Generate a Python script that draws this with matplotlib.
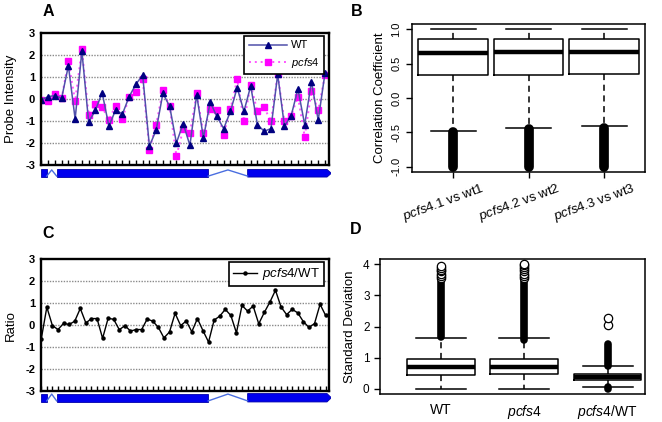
import numpy as np
import matplotlib
matplotlib.use("Agg")
import matplotlib.pyplot as plt
from matplotlib.patches import Polygon, Rectangle

plt.rcParams['font.family'] = ['Liberation Sans', 'DejaVu Sans']
plt.rcParams['mathtext.fontset'] = 'custom'
plt.rcParams['mathtext.rm'] = 'Liberation Sans'
plt.rcParams['mathtext.it'] = 'Liberation Sans:italic'

# ---- panel A: probe intensities ----
wt = [-0.05, 0.1, 0.15, 0.03, 1.5, -0.91, 2.16, -1.05, -0.52, 0.28,
      -1.24, -0.5, -0.69, 0.1, 0.66, 1.08, -2.14, -1.42, 0.25, -0.34,
      -2.0, -1.12, -2.11, 0.18, -1.77, -0.15, -0.8, -1.35, -0.57, 0.51,
      -0.57, 0.58, -1.17, -1.47, -1.35, 1.11, -1.24, -0.76, 0.45, -1.17,
      0.78, -0.97, 1.15]
pcfs4 = [-0.05, -0.12, 0.2, 0.03, 1.7, -0.1, 2.25, -0.72, -0.22, -0.39,
         -0.94, -0.31, -0.91, 0.1, 0.33, 0.88, -2.3, -1.17, 0.4, -0.34,
         -2.6, -1.39, -1.54, 0.25, -1.57, -0.45, -0.5, -1.62, -0.46, 0.88,
         -1.02, 0.63, -0.57, -0.39, -1.02, 1.11, -1.02, -0.76, 0.1, -1.72,
         0.36, -0.52, 1.08]

# ---- panel C: pcfs4/WT ratio ----
ratio = [-0.63, 0.82, -0.02, -0.2, 0.08, 0.03, 0.18, 0.76, 0.1, 0.3,
         0.3, -0.6, 0.32, 0.26, -0.21, -0.02, -0.27, -0.2, -0.2, 0.28,
         0.18, -0.1, -0.58, -0.31, 0.54, -0.02, 0.19, -0.3, 0.3, -0.25,
         -0.77, 0.23, 0.41, 0.72, 0.44, -0.35, 0.9, 0.64, 0.87, 0.06,
         0.58, 1.05, 1.59, 0.83, 0.48, 0.72, 0.56, 0.16, -0.1, 0.07,
         0.95, 0.44]

# gene model, relative position along the probe track (0..1)
exons = [(0.0, 0.021), (0.055, 0.578), (0.714, 0.988)]
introns = [(0.021, 0.055), (0.578, 0.714)]
gene_end = 1.003

# ---- panel B: correlation boxplots ----
B_labels = [r'$\mathit{pcfs4}$.1 vs wt1', r'$\mathit{pcfs4}$.2 vs wt2',
            r'$\mathit{pcfs4}$.3 vs wt3']
B_med = [0.655, 0.665, 0.665]
B_q1 = [0.335, 0.335, 0.355]
B_q3 = [0.855, 0.855, 0.855]
B_whislo = [-0.475, -0.435, -0.41]
B_whishi = [1.0, 1.0, 1.0]
B_out_hi = [-0.49, -0.45, -0.43]
B_out_lo = [-1.0, -1.0, -1.0]

# ---- panel D: standard deviation boxplots ----
D_labels = ['WT', r'$\mathit{pcfs4}$', r'$\mathit{pcfs4}$/WT']
D_med = [0.70, 0.70, 0.40]
D_q1 = [0.45, 0.48, 0.30]
D_q3 = [0.95, 0.95, 0.48]
D_whislo = [0.0, 0.0, 0.07]
D_whishi = [1.65, 1.62, 0.75]
D_dense = [[(1.68, 3.45)], [(1.58, 3.45)], [(0.74, 1.45), (0.0, 0.08)]]
D_sparse = [[3.55, 3.62, 3.7, 3.78, 3.83, 3.88, 3.93],
            [3.55, 3.62, 3.7, 3.78, 3.85, 3.92, 3.98, 4.02],
            [2.05, 2.28]]

W, H = 662, 422
fig = plt.figure(figsize=(W / 100, H / 100), dpi=100)


def box(l, t, r, b):
    return [l / W, 1 - b / H, (r - l) / W, (b - t) / H]


def track_axes(ax, xs):
    ax.set_ylim(-3, 3)
    ax.set_yticks(range(-3, 4))
    ax.set_yticklabels([str(v) for v in range(3, -4, -1)][::-1],
                       fontsize=8, fontweight='bold')
    ax.set_xticks(xs)
    ax.set_xticklabels([])
    ax.tick_params(axis='x', direction='in', length=3.5, width=1)
    ax.tick_params(axis='y', length=0, pad=4)
    for g in range(-2, 3):
        ax.axhline(g, color='#8a8a8a', lw=1, ls=(0, (1, 1)), zorder=0)
    for s in ax.spines.values():
        s.set_linewidth(1.7)


def draw_gene(rect):
    g = fig.add_axes(rect)
    g.set_xlim(0, 1)
    g.set_ylim(0, 1)
    g.axis('off')
    for a, b in exons[:-1]:
        g.add_patch(Rectangle((a, 0.1), b - a, 0.8, fc='#0000ee', ec='#0000aa', lw=0.6))
    a, b = exons[-1]
    g.add_patch(Polygon([(a, 0.1), (b, 0.1), (gene_end, 0.5), (b, 0.9), (a, 0.9)],
                        closed=True, fc='#0000ee', ec='#0000aa', lw=0.6))
    for a, b in introns:
        g.plot([a, (a + b) / 2, b], [0.2, 0.85, 0.2], color='#4a6ee0', lw=1)


# panel A
axA = fig.add_axes(box(40.7, 32.7, 329, 165))
xa = np.arange(len(wt))
lp, = axA.plot(xa, pcfs4, color='#ff55ff', ls=(0, (1, 2)), lw=1.4, marker='s',
               ms=4, mfc='#ff00ff', mec='#ff00ff', label=r'$\mathit{pcfs4}$')
lw_, = axA.plot(xa, wt, color='#5050aa', lw=1.1, marker='^', ms=4.5,
                mfc='#000080', mec='#000080', label='WT')
axA.set_xlim(-0.1, 42.6)
track_axes(axA, xa)
axA.set_ylabel('Probe Intensity', fontsize=9.5, labelpad=6)
legA = axA.legend(handles=[lw_, lp], loc='upper right', bbox_to_anchor=(0.983, 0.975),
                  borderaxespad=0, fontsize=8, handlelength=3.4, numpoints=1,
                  fancybox=False, framealpha=1, edgecolor='black', borderpad=0.4,
                  labelspacing=0.5, handletextpad=0.4)
legA.get_frame().set_linewidth(1.2)
draw_gene(box(40.7, 168.5, 330.5, 178))

# panel C
axC = fig.add_axes(box(40.7, 259.3, 329, 391))
xc = np.arange(len(ratio))
lr, = axC.plot(xc, ratio, color='black', lw=1, marker='o', ms=2.2, label=r'$\mathit{pcfs4}$/WT')
axC.set_xlim(-0.1, 51.6)
track_axes(axC, xc)
axC.set_ylabel('Ratio', fontsize=9.5, labelpad=6)
legC = axC.legend(handles=[lr], loc='upper right', bbox_to_anchor=(0.983, 0.977),
                  borderaxespad=0, fontsize=9.5, handlelength=1.8, numpoints=1,
                  fancybox=False, framealpha=1, edgecolor='black', borderpad=0.3,
                  handletextpad=0.4)
legC.get_frame().set_linewidth(1.2)
draw_gene(box(40.7, 392.5, 330.5, 403))


def boxes(ax, med, q1, q3, lo, hi, width, capw):
    stats = [dict(med=m, q1=a, q3=b, whislo=l, whishi=h, fliers=[])
             for m, a, b, l, h in zip(med, q1, q3, lo, hi)]
    ax.bxp(stats, positions=[1, 2, 3], widths=width, capwidths=capw, showfliers=False,
           boxprops=dict(lw=1.1, color='black'),
           whiskerprops=dict(lw=1.1, ls=(0, (4, 3)), color='black'),
           capprops=dict(lw=1.1, color='black'),
           medianprops=dict(lw=3.2, color='black', solid_capstyle='butt'))
    for s in ax.spines.values():
        s.set_linewidth(1.1)
    ax.tick_params(axis='both', length=4, width=1, direction='out')


# panel B
axB = fig.add_axes(box(411.7, 24, 645, 172.3))
boxes(axB, B_med, B_q1, B_q3, B_whislo, B_whishi, 0.92, 0.6)
for i, (t, b) in enumerate(zip(B_out_hi, B_out_lo)):
    axB.plot([i + 1, i + 1], [t, b], color='black', lw=7, solid_capstyle='round')
axB.set_xlim(0.45, 3.54)
axB.set_ylim(-1.08, 1.08)
axB.set_yticks([-1.0, -0.5, 0.0, 0.5, 1.0])
axB.set_yticklabels(['-1.0', '-0.5', '0.0', '0.5', '1.0'], rotation=90, va='center', fontsize=8)
axB.set_xticks([1, 2, 3])
axB.set_xticklabels([])
for i, lab in enumerate(B_labels):
    axB.text(i + 1.37, -1.2, lab, rotation=20, ha='right', va='top',
             rotation_mode='anchor', fontsize=9.5)
axB.set_ylabel('Correlation Coefficient', fontsize=9.5, labelpad=4)

# panel D
axD = fig.add_axes(box(380, 259.3, 645, 394.3))
boxes(axD, D_med, D_q1, D_q3, D_whislo, D_whishi, 0.81, 0.6)
for i in range(3):
    for t, b in D_dense[i]:
        axD.plot([i + 1, i + 1], [t, b], color='black', lw=5.5, solid_capstyle='round')
    axD.plot([i + 1] * len(D_sparse[i]), D_sparse[i], ls='none', marker='o', ms=6,
             mfc='white', mec='black', mew=0.9)
axD.set_xlim(0.27, 3.45)
axD.set_ylim(-0.17, 4.16)
axD.set_yticks([0, 1, 2, 3, 4])
axD.set_yticklabels(['0', '1', '2', '3', '4'], fontsize=8.5)
axD.set_xticks([1, 2, 3])
axD.set_xticklabels(D_labels, fontsize=10)
axD.tick_params(axis='x', length=0, pad=6)
axD.set_ylabel('Standard Deviation', fontsize=9.5, labelpad=5)

# panel letters
for lab, px, py in [('A', 48, 12), ('B', 357, 12), ('C', 48, 233), ('D', 356, 229)]:
    fig.text(px / W, 1 - py / H, lab, fontsize=11.5, fontweight='bold', ha='center', va='center')

fig.savefig('out.png', dpi=100)
